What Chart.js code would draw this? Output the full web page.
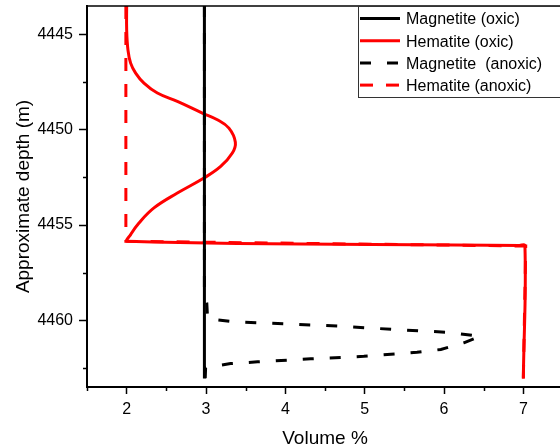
<!DOCTYPE html>
<html>
<head>
<meta charset="utf-8">
<script src="https://cdn.jsdelivr.net/npm/chart.js@4"></script>
<style>
  html, body { margin: 0; padding: 0; background: #fff; }
  #wrap { width: 560px; height: 448px; overflow: hidden; }
</style>
</head>
<body>
<div id="wrap"><canvas id="depthChart" width="564" height="448"></canvas></div>
<script>
// Axis ticks
const volumeTicks = [2, 3, 4, 5, 6, 7];
const volumeMinorTicks = [1.5, 2.5, 3.5, 4.5, 5.5, 6.5];
const depthTicks = [4445, 4450, 4455, 4460];
const depthMinorTicks = [4447.5, 4452.5, 4457.5, 4462.5];

// Series labels
const seriesLabels = ['Magnetite (oxic)', 'Hematite (oxic)', 'Magnetite  (anoxic)', 'Hematite (anoxic)'];

// Magnetite (oxic)
const magnetiteOxicVol = [2.98, 2.98];
const magnetiteOxicDepth = [4443.5, 4463.05];

// Hematite (oxic)
const hematiteOxicVol = [2.0, 2.0, 2.016, 2.05, 2.113, 2.218, 2.387, 2.639, 2.954, 3.143, 3.289, 3.37, 3.332, 3.185, 2.974, 2.639, 2.344, 2.155, 2.05, 2.009, 6.95, 7.02, 7.0];
const hematiteOxicDepth = [4443.5, 4444.75, 4445.8, 4446.5, 4447.02, 4447.55, 4448.07, 4448.51, 4449.12, 4449.47, 4449.91, 4450.65, 4451.22, 4451.92, 4452.53, 4453.32, 4454.1, 4454.89, 4455.5, 4455.85, 4456.07, 4456.08, 4463.07];

// Magnetite (anoxic)
const magnetiteAnoxicVol = [2.98, 2.98, 3.01, 3.02, 3.35, 4.03, 4.7, 5.37, 6.04, 6.46, 6.25, 5.96, 5.66, 4.99, 4.32, 3.65, 3.31, 2.995, 2.99];
const magnetiteAnoxicDepth = [4443.5, 4458.6, 4459.1, 4459.92, 4460.08, 4460.19, 4460.31, 4460.48, 4460.63, 4460.84, 4461.18, 4461.53, 4461.68, 4461.89, 4462.02, 4462.18, 4462.27, 4462.49, 4463.05];

// Hematite (anoxic)
const hematiteAnoxicVol = [1.99, 1.99, 7.03, 7.02, 7.0];
const hematiteAnoxicDepth = [4443.5, 4455.85, 4456.1, 4458.5, 4463.07];

const FONT = "'Liberation Sans', Arial, sans-serif";

function toPoints(vol, depth) {
  return vol.map((v, i) => ({ x: v, y: depth[i] }));
}

// Minor ticks, top frame line and the boxed legend
const decorations = {
  id: 'decorations',
  afterDraw(chart) {
    const ctx = chart.ctx;
    const area = chart.chartArea;
    const xs = chart.scales.x;
    const ys = chart.scales.y;
    ctx.save();
    ctx.strokeStyle = '#000';
    ctx.lineWidth = 1.5;
    ctx.beginPath();
    volumeMinorTicks.forEach((v) => {
      const px = Math.round(xs.getPixelForValue(v)) + 0.5;
      ctx.moveTo(px, area.bottom);
      ctx.lineTo(px, area.bottom + 4);
    });
    depthMinorTicks.forEach((d) => {
      const py = Math.round(ys.getPixelForValue(d)) + 0.5;
      ctx.moveTo(area.left, py);
      ctx.lineTo(area.left - 4, py);
    });
    ctx.stroke();

    // top frame
    ctx.beginPath();
    ctx.moveTo(area.left, area.top);
    ctx.lineTo(area.right, area.top);
    ctx.stroke();

    // legend
    const lx = 358, ly = area.top, lw = 220, lh = 91;
    ctx.fillStyle = '#fff';
    ctx.fillRect(lx, ly, lw, lh);
    ctx.strokeStyle = '#333';
    ctx.lineWidth = 1;
    ctx.strokeRect(lx + 0.5, ly + 0.5, lw, lh);
    ctx.font = '16px ' + FONT;
    ctx.textBaseline = 'middle';
    ctx.textAlign = 'left';
    chart.data.datasets.forEach((ds, i) => {
      const y = 18.5 + i * 22.2;
      ctx.strokeStyle = ds.borderColor;
      ctx.lineWidth = ds.borderWidth;
      ctx.setLineDash(ds.borderDash || []);
      ctx.beginPath();
      ctx.moveTo(360, y);
      ctx.lineTo(400, y);
      ctx.stroke();
      ctx.setLineDash([]);
      ctx.fillStyle = '#000';
      ctx.fillText(ds.label, 406, y + 1.5);
    });
    ctx.restore();
  }
};

const ctx = document.getElementById('depthChart').getContext('2d');
const depthChart = new Chart(ctx, {
  type: 'line',
  data: {
    datasets: [
      {
        label: seriesLabels[0],
        data: toPoints(magnetiteOxicVol, magnetiteOxicDepth),
        borderColor: '#000000',
        borderWidth: 3,
        tension: 0,
      },
      {
        label: seriesLabels[1],
        data: toPoints(hematiteOxicVol, hematiteOxicDepth),
        borderColor: '#ff0000',
        borderWidth: 3,
        tension: 0.4,
      },
      {
        label: seriesLabels[2],
        data: toPoints(magnetiteAnoxicVol, magnetiteAnoxicDepth),
        borderColor: '#000000',
        borderWidth: 3,
        borderDash: [11, 16],
        tension: 0,
      },
      {
        label: seriesLabels[3],
        data: toPoints(hematiteAnoxicVol, hematiteAnoxicDepth),
        borderColor: '#ff0000',
        borderWidth: 3,
        borderDash: [13, 13],
        tension: 0,
      },
    ],
  },
  options: {
    responsive: false,
    animation: false,
    devicePixelRatio: 1,
    layout: { padding: { top: 6, right: 1, left: 0, bottom: 0 } },
    elements: { point: { radius: 0 } },
    plugins: {
      legend: { display: false },
      tooltip: { enabled: false },
    },
    scales: {
      x: {
        type: 'linear',
        position: 'bottom',
        min: 1.5,
        max: 7.5,
        afterBuildTicks: (s) => { s.ticks = volumeTicks.map((v) => ({ value: v })); },
        afterFit: (s) => { s.height = 61; s.paddingLeft = 0; s.paddingRight = 0; },
        grid: { drawOnChartArea: false, drawTicks: true, tickLength: 7, tickColor: '#000', tickWidth: 1.5 },
        border: { display: true, color: '#000', width: 2 },
        ticks: { color: '#000', font: { family: FONT, size: 16 }, padding: 6, maxRotation: 0 },
        title: {
          display: true,
          text: 'Volume %',
          color: '#000',
          font: { family: FONT, size: 19, lineHeight: 1 },
          padding: { top: 0, bottom: 0 },
        },
      },
      y: {
        type: 'linear',
        position: 'left',
        reverse: true,
        min: 4443.5,
        max: 4463.5,
        afterBuildTicks: (s) => { s.ticks = depthTicks.map((v) => ({ value: v })); },
        afterFit: (s) => { s.width = 87; s.paddingTop = 0; s.paddingBottom = 0; },
        grid: { drawOnChartArea: false, drawTicks: true, tickLength: 8, tickColor: '#000', tickWidth: 1.5 },
        border: { display: true, color: '#000', width: 2 },
        ticks: {
          color: '#000',
          font: { family: FONT, size: 16 },
          padding: 6,
          callback: (v) => String(v),
        },
        title: {
          display: true,
          text: 'Approximate depth (m)',
          color: '#000',
          font: { family: FONT, size: 19, lineHeight: 1 },
          padding: { top: 14, bottom: 0 },
        },
      },
    },
  },
  plugins: [decorations],
});
</script>
</body>
</html>
